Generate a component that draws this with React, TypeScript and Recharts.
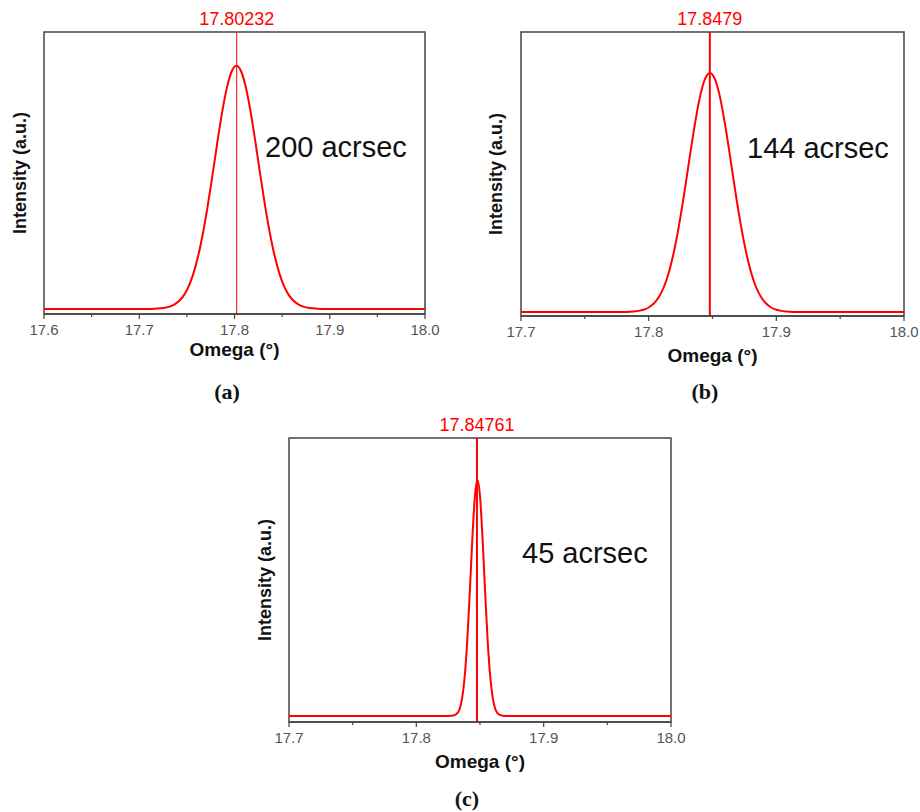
import {
  LineChart,
  Line,
  XAxis,
  YAxis,
  ReferenceLine,
  ReferenceArea,
} from "recharts";

// (a) scan, peak at 17.80232
const omegaA = [
  17.6, 17.7, 17.712, 17.722, 17.727, 17.732, 17.737, 17.742, 17.747, 17.752,
  17.757, 17.762, 17.767, 17.772, 17.777, 17.782, 17.787, 17.792, 17.797,
  17.802, 17.807, 17.812, 17.817, 17.822, 17.827, 17.832, 17.837, 17.842,
  17.847, 17.852, 17.857, 17.862, 17.867, 17.872, 17.877, 17.882, 17.892,
  17.9, 18.0,
];
const intensityA = [
  1.8, 1.8, 1.8, 2.0, 2.2, 2.6, 3.4, 4.7, 6.7, 9.9, 14.5, 20.8, 28.9, 38.6,
  49.5, 60.9, 71.5, 80.2, 86.0, 88.0, 86.0, 80.2, 71.5, 60.9, 49.5, 38.6, 28.9,
  20.8, 14.5, 9.9, 6.7, 4.7, 3.4, 2.6, 2.2, 2.0, 1.8, 1.8, 1.8,
];

// (b) scan, peak at 17.8479
const omegaB = [
  17.7, 17.778, 17.788, 17.792, 17.796, 17.8, 17.804, 17.808, 17.812, 17.816,
  17.82, 17.824, 17.828, 17.832, 17.836, 17.84, 17.844, 17.848, 17.852,
  17.856, 17.86, 17.864, 17.868, 17.872, 17.876, 17.88, 17.884, 17.888,
  17.892, 17.896, 17.9, 17.904, 17.908, 17.918, 18.0,
];
const intensityB = [
  1.4, 1.4, 1.6, 1.8, 2.2, 3.0, 4.4, 6.7, 10.3, 15.7, 23.1, 32.5, 43.5, 55.5,
  67.0, 76.8, 83.3, 85.6, 83.3, 76.8, 67.0, 55.5, 43.5, 32.5, 23.1, 15.7, 10.3,
  6.7, 4.4, 3.0, 2.2, 1.8, 1.6, 1.4, 1.4,
];

// (c) scan, peak at 17.84761
const omegaC = [
  17.7, 17.82, 17.828, 17.83, 17.832, 17.834, 17.836, 17.838, 17.84, 17.842,
  17.844, 17.846, 17.848, 17.85, 17.852, 17.854, 17.856, 17.858, 17.86,
  17.862, 17.864, 17.866, 17.868, 17.876, 18.0,
];
const intensityC = [
  2.1, 2.1, 2.2, 2.4, 3.0, 4.6, 8.5, 16.1, 28.7, 45.9, 64.6, 79.5, 85.2, 79.5,
  64.6, 45.9, 28.7, 16.1, 8.5, 4.6, 3.0, 2.4, 2.2, 2.1, 2.1,
];

const ticksA = [17.6, 17.65, 17.7, 17.75, 17.8, 17.85, 17.9, 17.95, 18.0];
const ticksBC = [17.7, 17.75, 17.8, 17.85, 17.9, 17.95, 18.0];

const RED = "#ff0000";
const FRAME = "#444";
const SANS = "'Liberation Sans', Arial, sans-serif";
const SERIF = "'Liberation Serif', 'Times New Roman', serif";

const AxisTick = (props: any) => {
  const { x, y, payload } = props;
  const v = payload.value as number;
  const major = Math.abs(v * 10 - Math.round(v * 10)) < 1e-6;
  return (
    <g>
      <line x1={x} x2={x} y1={y} y2={y + (major ? 5 : 3)} stroke={FRAME} strokeWidth={1.2} />
      {major && (
        <text x={x} y={y + 21} textAnchor="middle" fontSize={15} fill="#555" fontFamily={SANS}>
          {v.toFixed(1)}
        </text>
      )}
    </g>
  );
};

interface PanelProps {
  omega: number[];
  intensity: number[];
  peak: number;
  peakLabel: string;
  peakWidth: number;
  xMin: number;
  ticks: number[];
  width: number;
  height: number;
  top: number;
  right: number;
  yAxisWidth: number;
  xAxisHeight: number;
  yLabelOffset: number;
}

const Panel = (p: PanelProps) => {
  const data = p.omega.map((o, i) => ({ omega: o, intensity: p.intensity[i] }));
  return (
    <LineChart
      width={p.width}
      height={p.height}
      data={data}
      margin={{ top: p.top, right: p.right, bottom: 10, left: 0 }}
    >
      <XAxis
        dataKey="omega"
        type="number"
        domain={[p.xMin, 18.0]}
        ticks={p.ticks}
        allowDataOverflow
        interval={0}
        height={p.xAxisHeight}
        tickLine={false}
        tickSize={0}
        tickMargin={0}
        tick={<AxisTick />}
        axisLine={{ stroke: FRAME, strokeWidth: 1.5 }}
        label={{
          value: "Omega (°)",
          position: "insideBottom",
          offset: 0,
          fontSize: 19,
          fontWeight: "bold",
          fill: "#111",
        }}
      />
      <YAxis
        type="number"
        domain={[0, 100]}
        width={p.yAxisWidth}
        tick={false}
        tickLine={false}
        axisLine={false}
        label={{
          value: "Intensity (a.u.)",
          angle: -90,
          position: "insideLeft",
          offset: p.yLabelOffset,
          fontSize: 18,
          fontWeight: "bold",
          fill: "#111",
          style: { textAnchor: "middle" },
        }}
      />
      <ReferenceArea
        x1={p.xMin}
        x2={18.0}
        y1={0}
        y2={100}
        fill="none"
        stroke={FRAME}
        strokeWidth={1.5}
        fillOpacity={0}
      />
      <Line
        type="monotone"
        dataKey="intensity"
        stroke={RED}
        strokeWidth={2}
        dot={false}
        isAnimationActive={false}
      />
      <ReferenceLine
        x={p.peak}
        stroke={RED}
        strokeWidth={p.peakWidth}
        label={{ value: p.peakLabel, position: "top", fill: RED, fontSize: 18, offset: 7 }}
      />
    </LineChart>
  );
};

const note: React.CSSProperties = {
  position: "absolute",
  fontSize: 29,
  lineHeight: 1,
  color: "#111",
  whiteSpace: "nowrap",
  fontFamily: SANS,
};

const caption: React.CSSProperties = {
  position: "absolute",
  width: 80,
  textAlign: "center",
  fontSize: 22,
  lineHeight: 1,
  fontWeight: "bold",
  fontFamily: SERIF,
  color: "#111",
};

export default function App() {
  return (
    <div
      style={{
        position: "absolute",
        left: 0,
        top: 0,
        width: 920,
        height: 812,
        background: "#fff",
        fontFamily: SANS,
        overflow: "hidden",
      }}
    >
      <div style={{ position: "absolute", left: 0, top: 0 }}>
        <Panel
          omega={omegaA}
          intensity={intensityA}
          peak={17.80232}
          peakLabel="17.80232"
          peakWidth={1}
          xMin={17.6}
          ticks={ticksA}
          width={440}
          height={366}
          top={32}
          right={15}
          yAxisWidth={44}
          xAxisHeight={42}
          yLabelOffset={20}
        />
      </div>
      <div style={{ position: "absolute", left: 460, top: 0 }}>
        <Panel
          omega={omegaB}
          intensity={intensityB}
          peak={17.8479}
          peakLabel="17.8479"
          peakWidth={2}
          xMin={17.7}
          ticks={ticksBC}
          width={460}
          height={372}
          top={32}
          right={16}
          yAxisWidth={61}
          xAxisHeight={46}
          yLabelOffset={36}
        />
      </div>
      <div style={{ position: "absolute", left: 240, top: 400 }}>
        <Panel
          omega={omegaC}
          intensity={intensityC}
          peak={17.84761}
          peakLabel="17.84761"
          peakWidth={2}
          xMin={17.7}
          ticks={ticksBC}
          width={451}
          height={378}
          top={38}
          right={20}
          yAxisWidth={49}
          xAxisHeight={46}
          yLabelOffset={25}
        />
      </div>

      <div style={{ ...note, left: 265, top: 133 }}>200 acrsec</div>
      <div style={{ ...note, left: 747, top: 134 }}>144 acrsec</div>
      <div style={{ ...note, left: 522, top: 539 }}>45 acrsec</div>

      <div style={{ ...caption, left: 187, top: 381 }}>(a)</div>
      <div style={{ ...caption, left: 665, top: 381 }}>(b)</div>
      <div style={{ ...caption, left: 427, top: 788 }}>(c)</div>
    </div>
  );
}
